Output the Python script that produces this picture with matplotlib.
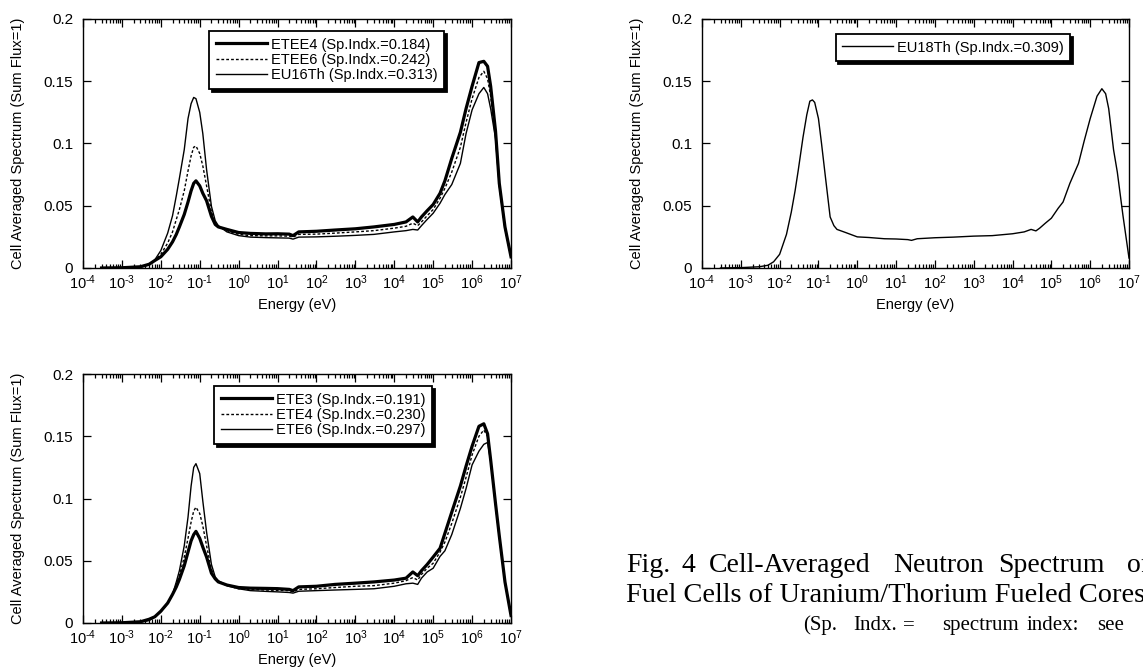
import matplotlib
matplotlib.use("Agg")
import matplotlib.pyplot as plt
from matplotlib.ticker import LogLocator, FixedLocator, FixedFormatter, NullFormatter, FuncFormatter
import math

plt.rcParams['font.family'] = ['Liberation Sans', 'DejaVu Sans']
plt.rcParams['mathtext.fontset'] = 'custom'
plt.rcParams['mathtext.rm'] = 'Liberation Sans'
plt.rcParams['mathtext.it'] = 'Liberation Sans:italic'
plt.rcParams['mathtext.default'] = 'regular'

# ---------------- data ----------------
energy_eV = [3e-4, 1e-3, 3e-3, 5e-3, 7e-3, 1e-2, 1.5e-2, 2e-2, 2.5e-2, 3e-2, 4e-2, 5e-2,
             6e-2, 7e-2, 8e-2, 1e-1, 1.2e-1, 1.5e-1, 2e-1, 2.5e-1, 3e-1, 5e-1, 1, 2, 5, 10,
             20, 25, 35, 100, 300, 1e3, 3e3, 1e4, 2e4, 3e4, 4e4, 5e4, 7e4, 1e5, 1.5e5, 2e5,
             3e5, 5e5, 7e5, 1e6, 1.5e6, 2e6, 2.5e6, 3e6, 4e6, 5e6, 7e6, 1e7]

# Panel 1
etee4 = [0, 0.0002, 0.001, 0.003, 0.006, 0.009, 0.015, 0.021, 0.027, 0.033, 0.043, 0.053,
         0.062, 0.068, 0.070, 0.066, 0.060, 0.054, 0.0415, 0.035, 0.033, 0.031, 0.0285, 0.0278,
         0.0274, 0.0275, 0.0272, 0.026, 0.029, 0.0295, 0.0305, 0.0315, 0.033, 0.035, 0.037,
         0.041, 0.037, 0.041, 0.046, 0.051, 0.060, 0.070, 0.088, 0.109, 0.128, 0.146, 0.165,
         0.166, 0.162, 0.146, 0.110, 0.068, 0.033, 0.009]
etee6 = [0, 0.0002, 0.001, 0.003, 0.006, 0.011, 0.020, 0.029, 0.039, 0.047, 0.062, 0.078,
         0.090, 0.097, 0.098, 0.092, 0.082, 0.066, 0.045, 0.036, 0.0335, 0.030, 0.027, 0.026,
         0.0258, 0.0258, 0.0256, 0.0248, 0.027, 0.0272, 0.028, 0.029, 0.030, 0.032, 0.0335,
         0.036, 0.034, 0.037, 0.042, 0.047, 0.056, 0.064, 0.077, 0.097, 0.117, 0.136, 0.153,
         0.158, 0.152, 0.138, 0.107, 0.067, 0.032, 0.009]
eu16th = [0, 0.0002, 0.0008, 0.0025, 0.0065, 0.014, 0.028, 0.042, 0.058, 0.072, 0.095, 0.120,
          0.132, 0.137, 0.136, 0.125, 0.108, 0.079, 0.0495, 0.038, 0.034, 0.029, 0.026, 0.0248,
          0.0244, 0.0242, 0.024, 0.0232, 0.0248, 0.025, 0.0255, 0.0262, 0.027, 0.029, 0.030,
          0.031, 0.0305, 0.034, 0.039, 0.044, 0.052, 0.059, 0.067, 0.084, 0.108, 0.127, 0.140,
          0.145, 0.140, 0.128, 0.104, 0.066, 0.032, 0.009]

# Panel 2
eu18th = [0, 0.0003, 0.001, 0.0022, 0.005, 0.011, 0.027, 0.045, 0.062, 0.078, 0.105, 0.123,
          0.134, 0.135, 0.133, 0.120, 0.100, 0.074, 0.041, 0.034, 0.031, 0.0285, 0.025, 0.0245,
          0.0235, 0.0233, 0.0228, 0.0222, 0.0235, 0.0243, 0.0248, 0.0256, 0.026, 0.0275, 0.029,
          0.031, 0.0298, 0.032, 0.036, 0.040, 0.048, 0.053, 0.068, 0.084, 0.102, 0.120, 0.138,
          0.144, 0.140, 0.128, 0.095, 0.077, 0.042, 0.008]

# Panel 3
ete3 = [0, 0.0002, 0.001, 0.003, 0.005, 0.0095, 0.016, 0.023, 0.029, 0.035, 0.046, 0.057,
        0.066, 0.071, 0.0736, 0.068, 0.061, 0.053, 0.040, 0.0355, 0.033, 0.0305, 0.0285, 0.028,
        0.0278, 0.0276, 0.027, 0.026, 0.029, 0.0295, 0.031, 0.032, 0.033, 0.0345, 0.036,
        0.041, 0.038, 0.042, 0.047, 0.053, 0.060, 0.072, 0.089, 0.110, 0.126, 0.142, 0.158,
        0.160, 0.152, 0.131, 0.096, 0.070, 0.033, 0.006]
ete4 = [0, 0.0002, 0.001, 0.0025, 0.005, 0.009, 0.016, 0.023, 0.031, 0.038, 0.053, 0.068,
        0.081, 0.090, 0.093, 0.088, 0.078, 0.062, 0.043, 0.036, 0.0335, 0.030, 0.0275, 0.027,
        0.0265, 0.0262, 0.026, 0.025, 0.027, 0.0275, 0.0285, 0.0295, 0.030, 0.032, 0.034,
        0.0365, 0.0345, 0.039, 0.044, 0.048, 0.057, 0.065, 0.080, 0.101, 0.117, 0.135, 0.150,
        0.155, 0.150, 0.131, 0.095, 0.069, 0.033, 0.006]
ete6 = [0, 0.0002, 0.0008, 0.002, 0.005, 0.009, 0.016, 0.023, 0.033, 0.042, 0.062, 0.085,
        0.110, 0.125, 0.128, 0.120, 0.098, 0.073, 0.047, 0.037, 0.034, 0.030, 0.0275, 0.026,
        0.0254, 0.025, 0.0245, 0.024, 0.0255, 0.026, 0.0265, 0.027, 0.0275, 0.0295, 0.0315,
        0.032, 0.031, 0.036, 0.041, 0.044, 0.0535, 0.058, 0.071, 0.092, 0.108, 0.127, 0.138,
        0.1435, 0.145, 0.130, 0.095, 0.069, 0.033, 0.006]

panel1_labels = ["ETEE4 (Sp.Indx.=0.184)", "ETEE6 (Sp.Indx.=0.242)", "EU16Th (Sp.Indx.=0.313)"]
panel2_labels = ["EU18Th (Sp.Indx.=0.309)"]
panel3_labels = ["ETE3 (Sp.Indx.=0.191)", "ETE4 (Sp.Indx.=0.230)", "ETE6 (Sp.Indx.=0.297)"]

ytick_values = [0, 0.05, 0.1, 0.15, 0.2]
ytick_labels = ["0", "0.05", "0.1", "0.15", "0.2"]
xlim = (1e-4, 1e7)
ylabel_text = "Cell Averaged Spectrum (Sum Flux=1)"
xlabel_text = "Energy (eV)"

caption_line1 = ["Fig.", "4", "Cell-Averaged", "Neutron", "Spectrum", "of"]
caption_line2 = "Fuel Cells of Uranium/Thorium Fueled Cores"
caption_line3 = ["(Sp.", "Indx.", "=", "spectrum", "index:", "see", "text)"]

# ---------------- styles ----------------
styles = [dict(color='black', lw=2.3, ls='-'),
          dict(color='black', lw=1.0, ls=(0, (2.0, 1.5))),
          dict(color='black', lw=1.0, ls='-')]

FS = 10.5
YTFS = 11
XTFS = 10.5
W, H = 1143, 668
fig = plt.figure(figsize=(W / 100, H / 100), dpi=100)


def make_axes(x0, x1, ytop, ybot):
    return fig.add_axes([x0 / W, 1 - ybot / H, (x1 - x0) / W, (ybot - ytop) / H])


def pow10_label(v, pos):
    e = int(round(math.log10(v)))
    if e < 0:
        return r'$10^{\text{-}%d}$' % (-e)
    return r'$10^{%d}$' % e


def style_axes(ax):
    ax.set_xscale('log')
    ax.set_xlim(*xlim)
    ax.set_ylim(ytick_values[0], ytick_values[-1])
    ax.xaxis.set_major_locator(LogLocator(base=10, numticks=20))
    ax.xaxis.set_major_formatter(FuncFormatter(pow10_label))
    ax.xaxis.set_minor_locator(LogLocator(base=10, subs=range(2, 10), numticks=20))
    ax.xaxis.set_minor_formatter(NullFormatter())
    ax.yaxis.set_major_locator(FixedLocator(ytick_values))
    ax.yaxis.set_major_formatter(FixedFormatter(ytick_labels))
    ax.tick_params(which='both', direction='in', top=True, right=True, width=0.9)
    ax.tick_params(axis='x', which='major', pad=4, labelsize=XTFS)
    ax.tick_params(axis='y', which='major', pad=7, labelsize=YTFS)
    ax.tick_params(which='major', length=6)
    ax.tick_params(which='minor', length=3)
    for s in ax.spines.values():
        s.set_linewidth(1.0)
    ax.set_ylabel(ylabel_text, fontsize=FS)
    ax.set_xlabel(xlabel_text, fontsize=FS)
    ax.yaxis.set_label_coords(-0.135, 0.5)
    ax.xaxis.set_label_coords(0.5, -0.12)


def add_legend(ax, anchor):
    leg = ax.legend(loc='upper right', bbox_to_anchor=anchor, borderaxespad=0,
                    fontsize=FS, frameon=True, fancybox=False, framealpha=1,
                    edgecolor='black', handlelength=3.5, handletextpad=0.25,
                    labelspacing=0.1, borderpad=0.45,
                    shadow={'color': 'black', 'alpha': 1})
    leg.get_frame().set_linewidth(1.3)
    return leg


# Panel 1
ax1 = make_axes(83, 511, 19, 268)
for series, lab, st in zip([etee4, etee6, eu16th], panel1_labels, styles):
    ax1.plot(energy_eV, series, label=lab, **st)
style_axes(ax1)
add_legend(ax1, (0.843, 0.952))

# Panel 2
ax2 = make_axes(702, 1129, 19, 268)
ax2.plot(energy_eV, eu18th, label=panel2_labels[0], **styles[2])
style_axes(ax2)
add_legend(ax2, (0.862, 0.94))

# Panel 3
ax3 = make_axes(83, 511, 374, 623)
for series, lab, st in zip([ete3, ete4, ete6], panel3_labels, styles):
    ax3.plot(energy_eV, series, label=lab, **st)
style_axes(ax3)
add_legend(ax3, (0.815, 0.952))

# ---------------- caption ----------------
serif = ['Liberation Serif', 'DejaVu Serif']
line1_x = [626, 681, 709, 893, 998, 1127]
for w, x in zip(caption_line1, line1_x):
    fig.text(x / W, 1 - 572 / H, w, family=serif, fontsize=20, va='baseline', ha='left')
fig.text(626 / W, 1 - 602 / H, caption_line2,
         family=serif, fontsize=20.4, va='baseline', ha='left')
line3_x = [803, 853, 903, 942, 1027, 1097, 1150]
for w, x in zip(caption_line3, line3_x):
    fig.text(x / W, 1 - 630 / H, w, family=serif, fontsize=15, va='baseline', ha='left')

fig.savefig("out.png", dpi=100)
